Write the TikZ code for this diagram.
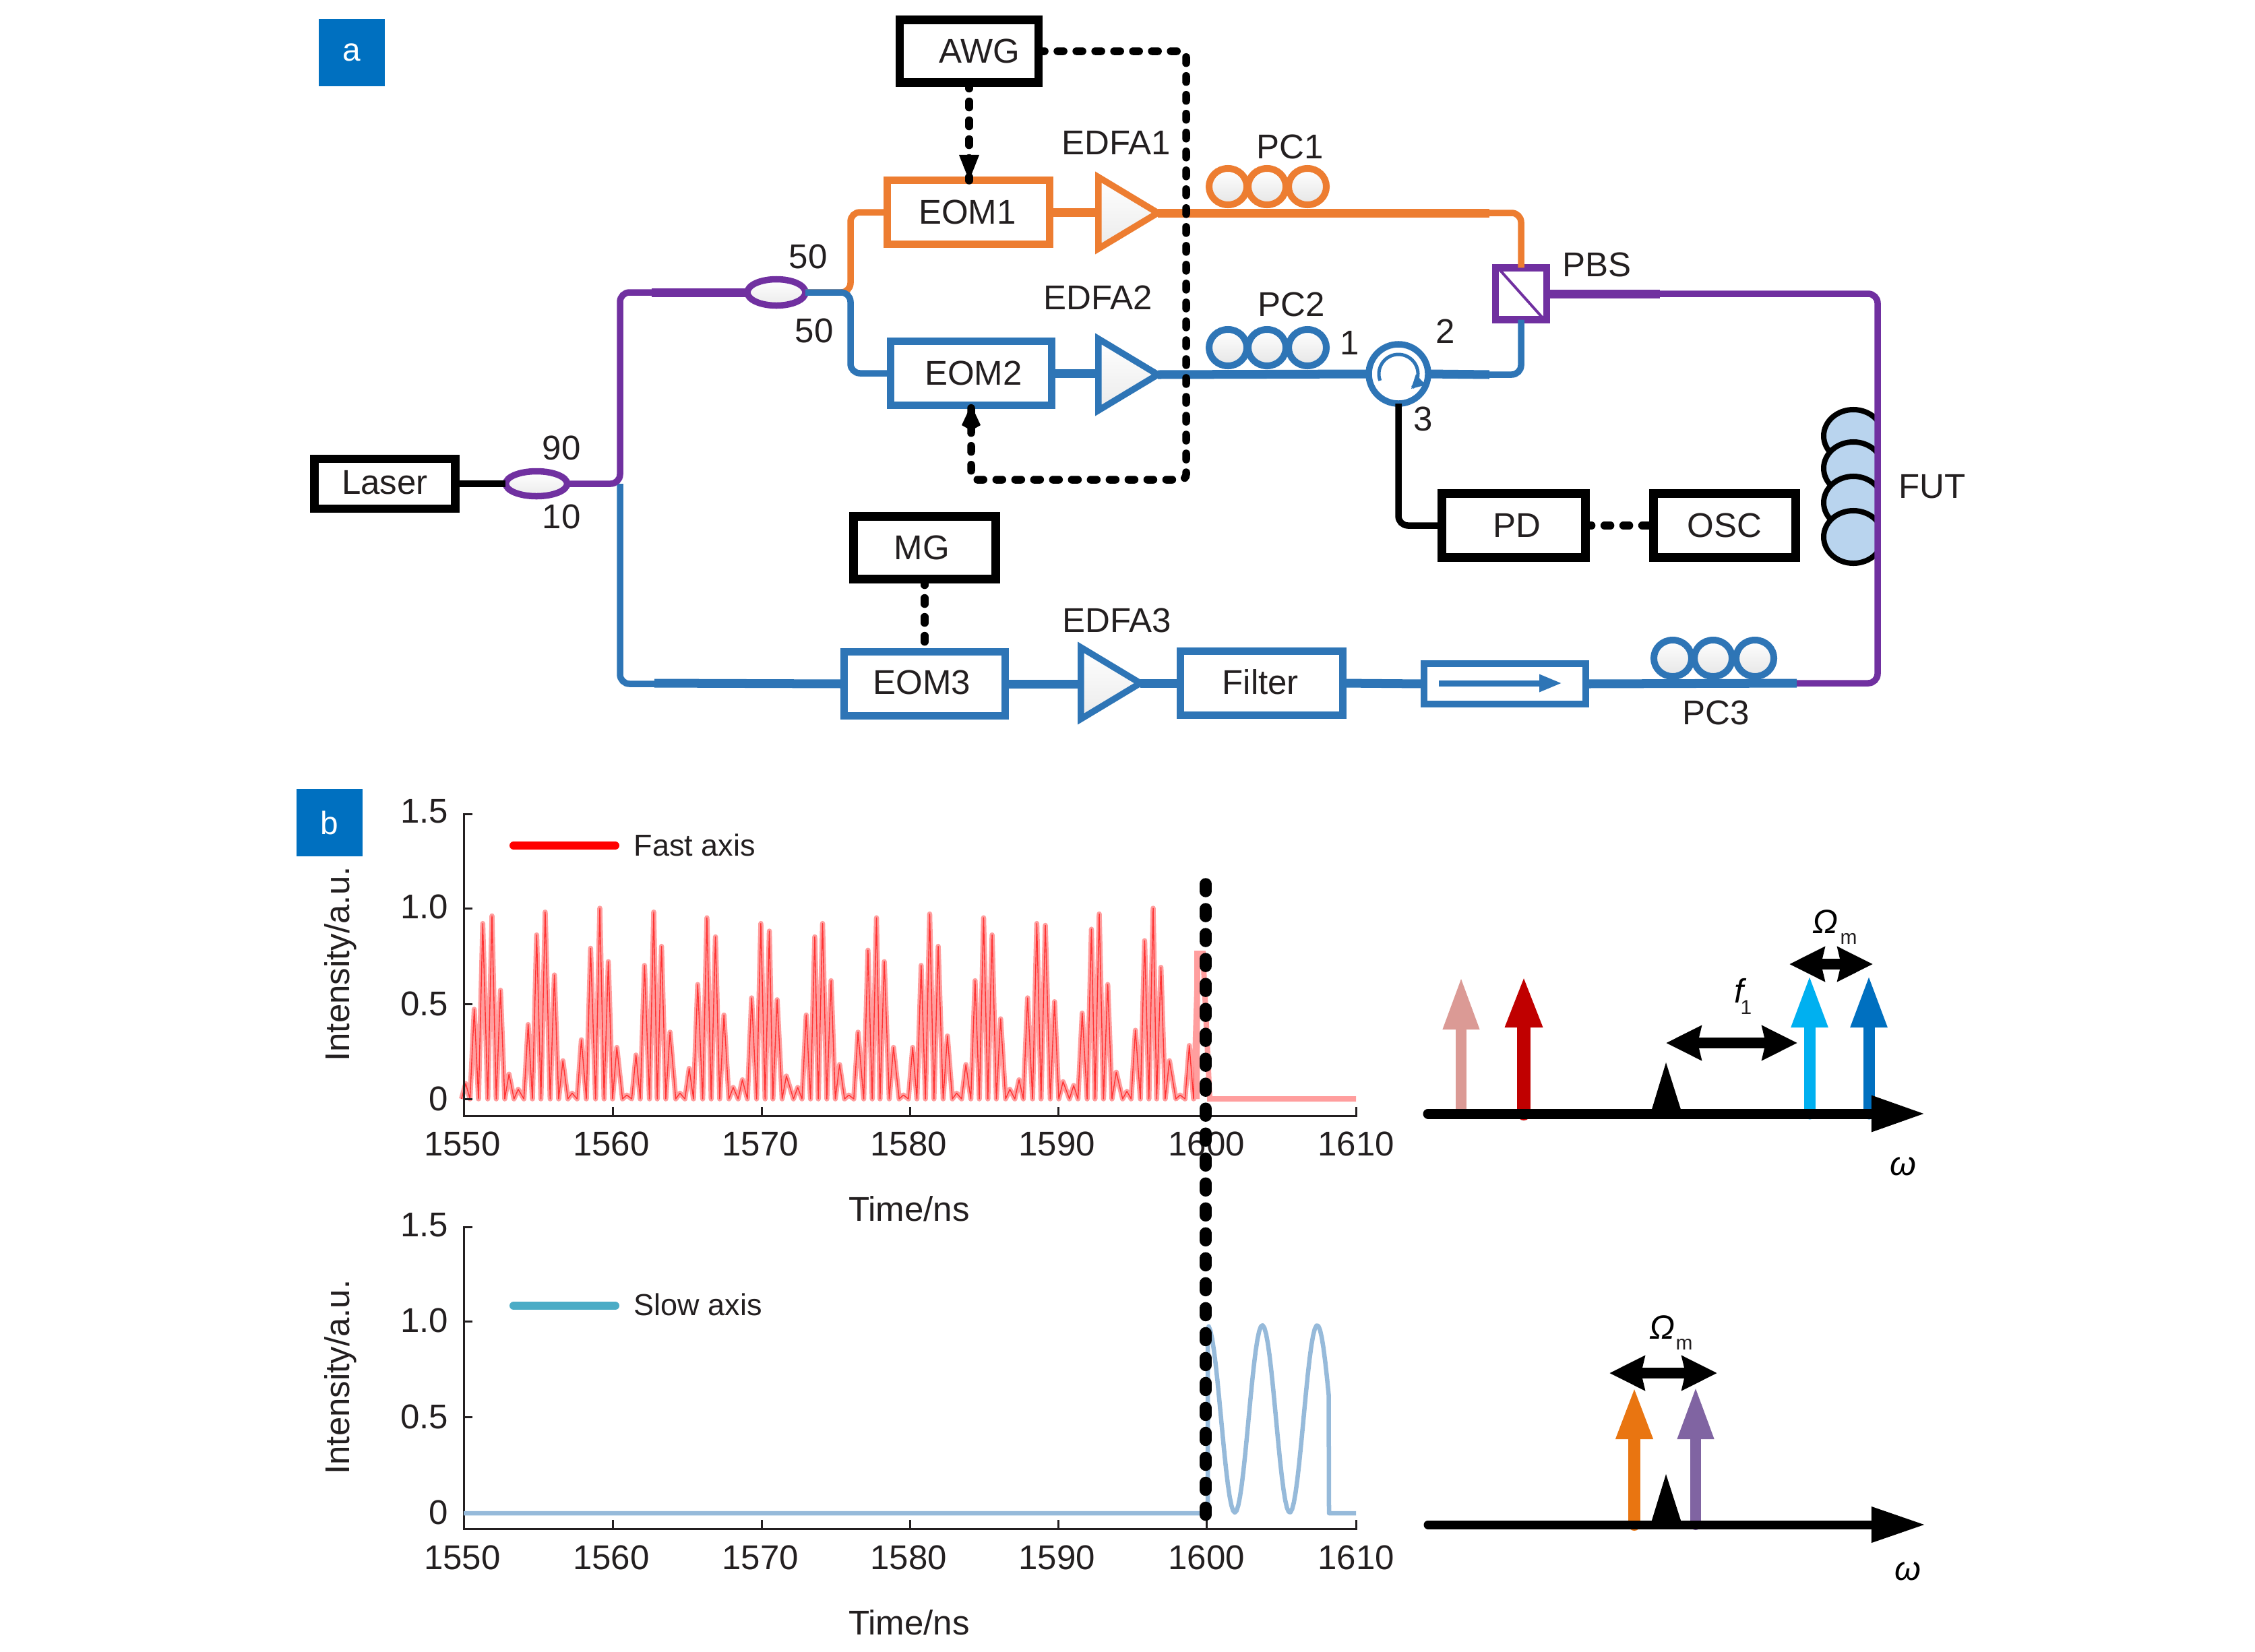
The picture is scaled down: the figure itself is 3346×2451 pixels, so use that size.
\documentclass[tikz,border=0pt]{standalone}
\usepackage{fontspec}
\setmainfont{Liberation Sans}
\usetikzlibrary{arrows.meta,shapes.geometric,calc}
\definecolor{oran}{HTML}{ED7D31}
\definecolor{blu}{HTML}{2E75B6}
\definecolor{purp}{HTML}{7030A0}
\definecolor{tx}{HTML}{231F20}
\definecolor{tag}{HTML}{0070C0}
\definecolor{fut}{HTML}{B9D4EE}
\definecolor{slow}{HTML}{4BACC6}
\tikzset{
 x=0.01cm,y=-0.01cm,
 lab/.style={font=\fontsize{14.5}{17}\selectfont,text=tx,inner sep=0pt},
 box/.style={draw=#1,line width=.11cm,fill=white,inner sep=0pt,outer sep=0pt,font=\fontsize{14.5}{17}\selectfont,text=tx},
 bbox/.style={box=black,line width=.125cm},
 tri/.style={draw=#1,line width=.095cm,isosceles triangle,isosceles triangle stretches,minimum width=1.06cm,minimum height=.88cm,inner sep=0pt,outer sep=0pt,anchor=apex,top color=white,bottom color=black!8,line join=miter},
 coup/.style={draw=purp,line width=.095cm,ellipse,top color=white,bottom color=black!8,inner sep=0pt,outer sep=0pt},
 pc/.style={draw=#1,line width=.1cm,ellipse,minimum width=.56cm,minimum height=.54cm,inner sep=0pt,outer sep=0pt,top color=white,bottom color=black!10},
 futc/.style={draw=black,line width=.08cm,ellipse,fill=fut,minimum width=.88cm,minimum height=.78cm,inner sep=0pt,outer sep=0pt},
 fib/.style={draw=#1,line width=.095cm,rounded corners=.14cm},
 fibt/.style={draw=#1,line width=.13cm},
 sig/.style={draw=black,line width=.115cm,line cap=round,dash pattern=on .09cm off .19cm,rounded corners=.08cm},
 tagbox/.style={fill=tag,text=white,inner sep=0pt,font=\fontsize{13.6}{16}\selectfont,minimum width=.98cm,minimum height=.99cm},
 axisl/.style={draw=tx,line width=.03cm},
 freq/.style={line width=#1,line cap=round,-{Triangle[length=.78cm,width=.5cm]}},
 dbl/.style={line width=.16cm,{Stealth[length=.52cm,width=.5cm,inset=.05cm]}-{Stealth[length=.52cm,width=.5cm,inset=.05cm]}},
 omega/.style={font=\fontsize{14.2}{16}\selectfont\itshape,text=black,inner sep=0pt},
 subs/.style={font=\fontsize{8.5}{10}\selectfont,text=tx,inner sep=0pt}
}
\def\fastspikes{248/.08,260/.47,272/.92,285/.96,297/.57,309/.13,322/.05,336/.39,348/.86,360/.98,373/.65,385/.2,398/.03,411/.31,424/.79,437/1.0,449/.72,461/.27,475/.02,488/.23,500/.7,513/.98,524/.8,536/.35,550/.03,563/.16,575/.6,588/.95,600/.85,612/.44,625/.06,638/.1,651/.53,664/.92,676/.88,687/.52,700/.12,716/.06,728/.44,740/.85,751/.92,763/.62,775/.18,788/.02,801/.35,815/.78,827/.95,838/.72,851/.27,865/.02,878/.27,890/.7,902/.97,914/.8,927/.33,940/.03,953/.18,966/.62,978/.95,990/.86,1002/.42,1015/.05,1028/.1,1040/.53,1053/.92,1065/.91,1078/.51,1090/.09,1105/.07,1117/.45,1130/.89,1141/.97,1153/.6,1165/.14,1180/.04,1192/.36,1205/.83,1217/1.0,1228/.69,1240/.2,1255/.02,1268/.28,1280/.76}
\begin{document}
\begin{tikzpicture}
\path[use as bounding box,fill=white] (0,0) rectangle (3346,2451);
% ---------- panel a
\node[tagbox] (taga) at (522,78) {a};
\node[bbox,minimum width=2.06cm,minimum height=.93cm] (awg) at (1438,76) {\hspace{8.5pt}\raisebox{.4pt}{AWG}};
\node[box=oran,minimum width=2.4cm,minimum height=.94cm] (eom1) at (1437,315) {\hspace{-1pt}EOM1};
\node[box=blu,minimum width=2.38cm,minimum height=.94cm] (eom2) at (1441,554) {\hspace{2pt}\raisebox{-.3pt}{EOM2}};
\node[bbox,minimum width=2.09cm,minimum height=.74cm] (laser) at (571,718) {\raisebox{1.2pt}{Laser}};
\node[bbox,minimum width=2.11cm,minimum height=.93cm] (mg) at (1372,813) {\hspace{-2.3pt}\raisebox{-1.2pt}{MG}};
\node[box=blu,minimum width=2.38cm,minimum height=.94cm] (eom3) at (1372,1015) {\hspace{-2.3pt}\raisebox{1.2pt}{EOM3}};
\node[box=blu,minimum width=2.4cm,minimum height=.95cm] (filter) at (1872,1014) {\hspace{-1pt}\raisebox{1.2pt}{Filter}};
\node[bbox,minimum width=2.13cm,minimum height=.95cm] (pd) at (2246,780) {\hspace{2.5pt}PD};
\node[bbox,minimum width=2.11cm,minimum height=.95cm] (osc) at (2559,780) {OSC};
\node[box=blu,line width=.1cm,minimum width=2.4cm,minimum height=.6cm] (iso) at (2233,1015) {};
\node[box=purp,line width=.105cm,minimum width=.76cm,minimum height=.77cm] (pbs) at (2257,436) {};
\node[tri=oran] (e1) at (1718,316) {};
\node[tri=blu] (e2) at (1718,556) {};
\node[tri=blu] (e3) at (1692,1014) {};
\node[coup,minimum width=.91cm,minimum height=.37cm] (c1) at (796,718) {};
\node[coup,minimum width=.86cm,minimum height=.39cm] (c2) at (1152,434) {};
\node[pc=oran] (pc1a) at (1822,277) {};
\node[pc=oran] (pc1b) at (1880,277) {};
\node[pc=oran] (pc1c) at (1940,277) {};
\node[pc=blu] (pc2a) at (1822,516) {};
\node[pc=blu] (pc2b) at (1880,516) {};
\node[pc=blu] (pc2c) at (1940,516) {};
\node[pc=blu] (pc3a) at (2482,977) {};
\node[pc=blu] (pc3b) at (2542,977) {};
\node[pc=blu] (pc3c) at (2604,977) {};
\node[circle,draw=blu,line width=.095cm,minimum size=.88cm,inner sep=0pt,outer sep=0pt] (circ) at (2075,555) {};
\draw[blu,line width=.05cm,-{Triangle[length=.2cm,width=.2cm]}] plot[domain=160:410,samples=40] ({2075+29*cos(\x)},{555+29*sin(\x)});
\begin{scope}
\clip (2690,590) rectangle (2786,850);
\node[futc] (f1) at (2750,647) {};
\node[futc] (f2) at (2750,695) {};
\node[futc] (f3) at (2750,746) {};
\node[futc] (f4) at (2750,797) {};
\end{scope}
\draw[blu,line width=.09cm,-{Triangle[length=.34cm,width=.24cm]}] (2135,1014) -- (2318,1014);
\draw[purp,line width=.04cm] (2223,398) -- (2291,474);
% routing points
\coordinate (tr) at (920,718);
\coordinate (sp) at (1262,434);
\coordinate (oend) at (2210,316);
\coordinate (bend) at (2210,556);
\coordinate (pr1) at (2463,436);
\coordinate (prc) at (2786,436);
\coordinate (prd) at (2786,1014);
\coordinate (pb) at (2666,1014);
\coordinate (d2) at (1760,712);
% fibres
\draw[fib=black] (laser.east) -- (c1.west);
\draw[fib=blu] (tr) |- (eom3.west);
\draw[fibt=blu] (971,1014) -- (eom3.west);
\draw[fib=purp] (c1.east) -- (tr) |- (c2.west);
\draw[fibt=purp] (967,434) -- (c2.west);
\draw[fib=oran] (c2.east) -- (sp) |- (eom1.west);
\draw[fib=blu] (c2.east) -- (sp) |- (eom2.west);
\draw[fibt=oran] (eom1.east) -- (eom1.east -| e1.west);
\draw[fibt=blu] (eom2.east) -- (eom2.east -| e2.west);
\draw[fibt=oran] (e1.apex) -- (oend);
\draw[fibt=blu] (e2.apex) -- (circ.west);
\draw[fibt=blu] (circ.east) -- (bend);
\draw[fib=oran] (oend) -| (pbs.north);
\draw[fib=blu] (bend) -| (pbs.south);
\draw[fib=black] (circ.south) |- (pd.west);
\draw[fibt=blu] (eom3.east) -- (eom3.east -| e3.west);
\draw[fibt=blu] (e3.apex) -- (filter.west);
\draw[fibt=blu] (filter.east) -- (iso.west);
\draw[fibt=blu] (iso.east) -- (pb);
\draw[fib=purp] (pbs.east) -- (prc) -- (prd) -- (pb);
\draw[fibt=purp] (pbs.east) -- (pr1);
% signal lines
\draw[sig] (awg.east) -| (d2) -| (eom2.south);
\draw[sig] (awg.south) -- (awg.south |- eom1.north);
\fill[black] (awg.south |- eom1.north) -- ++(-15,-38) -- ++(30,0) -- cycle;
\fill[black] (eom2.south) -- ++(-14,30) -- ++(14,8) -- ++(14,-8) -- cycle;
\draw[sig] (mg.south) -- (mg.south |- eom3.north);
\draw[sig] (pd.east) -- (osc.west);
% labels
\node[lab] (l1) at (1656,212) {EDFA1};
\node[lab] (l2) at (1629,442) {EDFA2};
\node[lab] (l3) at (1657,921) {EDFA3};
\node[lab] (l4) at (1199,381) {50};
\node[lab] (l5) at (1208,491) {50};
\node[lab] (l6) at (833,665) {90};
\node[lab] (l7) at (833,767) {10};
\node[lab] (l8) at (1914,218) {PC1};
\node[lab] (l9) at (1916,452) {PC2};
\node[lab] (l10) at (2003,509) {1};
\node[lab] (l11) at (2145,492) {2};
\node[lab] (l12) at (2112,622) {3};
\node[lab] (l13) at (2369,393) {PBS};
\node[lab] (l14) at (2867,722) {FUT};
\node[lab] (l15) at (2546,1058) {PC3};
% ---------- panel b, upper plot
\node[tagbox] (tagb) at (489,1221) {b};
\draw[red!38!white,line width=.075cm,line join=round] ({430+242/0.95},1631) \foreach \x/\h in \fastspikes { -- ({430+(\x-6)/0.95},1631) -- ({430+\x/0.95},{1631-283*\h}) } -- (1776,1631);
\draw[red!80!white,line width=.014cm,line join=round] ({430+242/0.95},1631) \foreach \x/\h in \fastspikes { -- ({430+(\x-6)/0.95},1631) -- ({430+\x/0.95},{1631-283*\h}) } -- (1776,1631);
\draw[red!38!white,line width=.08cm] (1776,1631) -- (1776,1415) -- (1785,1415) -- (1795,1631) -- (2012,1631);
\draw[axisl] (701,1208) -- (688,1208) -- (688,1656) -- (2012,1656) -- (2012,1643);
\foreach \y in {1348,1490,1631} \draw[axisl] (688,\y) -- (701,\y);
\foreach \x in {909,1130,1350,1570,1790} \draw[axisl] (\x,1656) -- (\x,1643);
\foreach \t/\y in {1.5/1204,1.0/1346,0.5/1490,0/1631} \node[lab,anchor=east] (yu\t) at (666,\y) {\t};
\foreach \t/\x in {1550/686,1560/907,1570/1128,1580/1348,1590/1568,1600/1790,1610/2012} \node[lab] (xu\t) at (\x,1698) {\t};
\node[lab] (tu) at (1349,1794) {Time/ns};
\node[lab,rotate=90] (iu) at (505,1431) {Intensity/a.u.};
\draw[red,line width=.12cm,line cap=round] (762,1255) -- (913,1255);
\node[lab,anchor=west,font=\fontsize{12.8}{15}\selectfont] (fa) at (940,1254) {Fast axis};
% lower plot
\draw[axisl] (701,1821) -- (688,1821) -- (688,2269) -- (2012,2269) -- (2012,2256);
\foreach \y in {1961,2103,2244} \draw[axisl] (688,\y) -- (701,\y);
\foreach \x in {909,1130,1350,1570,1790} \draw[axisl] (\x,2269) -- (\x,2256);
\foreach \t/\y in {1.5/1818,1.0/1960,0.5/2103,0/2245} \node[lab,anchor=east] (yl\t) at (666,\y) {\t};
\foreach \t/\x in {1550/686,1560/907,1570/1128,1580/1348,1590/1568,1600/1790,1610/2012} \node[lab] (xl\t) at (\x,2312) {\t};
\node[lab] (tl) at (1349,2408) {Time/ns};
\node[lab,rotate=90] (il) at (505,2044) {Intensity/a.u.};
\draw[draw=blu!50!white,line width=.065cm,line join=round] (688,2246) -- (1792,2246) -- (1792,1973) -- plot[domain=2:180,samples=70] ({1791.5+\x},{2106-139*cos(\x*4.417)}) -- (1972,2246) -- (2012,2246);
\draw[slow,line width=.12cm,line cap=round] (762,1938) -- (913,1938);
\node[lab,anchor=west,font=\fontsize{12.8}{15}\selectfont] (sa) at (940,1936) {Slow axis};
% dashed marker
\coordinate (vt) at (1789,1312);
\coordinate (vb) at (1789,2262);
\draw[black,line width=.175cm,line cap=round,dash pattern=on .11cm off .26cm] (vt) -- (vb);
% ---------- spectra
\definecolor{cA}{HTML}{DB9A95}\definecolor{cB}{HTML}{C00000}\definecolor{cC}{HTML}{00B0F0}\definecolor{cD}{HTML}{0070C0}\definecolor{cE}{HTML}{E97511}\definecolor{cF}{HTML}{8064A2}
\draw[cA,freq=.16cm] (2168,1653) -- (2168,1450);
\draw[cB,freq=.2cm] (2261,1653) -- (2261,1447);
\draw[cC,freq=.17cm] (2685,1653) -- (2685,1447);
\draw[cD,freq=.17cm] (2773,1653) -- (2773,1447);
\draw[black,line width=.15cm,line cap=round,-{Triangle[length=.8cm,width=.5cm]}] (2119,1653) -- (2857,1653);
\fill[black] (2472,1577) -- (2496,1653) -- (2449,1653) -- cycle;
\draw[dbl] (2472,1548) -- (2667,1548);
\draw[dbl] (2655,1431) -- (2779,1431);
\node[omega] (o1) at (2708,1368) {Ω};
\node[subs] (m1) at (2743,1393) {m};
\node[omega] (f1l) at (2580,1470) {f};
\node[subs] (s1) at (2591,1495) {1};
\node[omega] (w1) at (2824,1731) {ω};
\draw[cE,freq=.18cm] (2425,2263) -- (2425,2058);
\draw[cF,freq=.16cm] (2516,2263) -- (2516,2058);
\draw[black,line width=.13cm,line cap=round,-{Triangle[length=.8cm,width=.5cm]}] (2119,2263) -- (2857,2263);
\fill[black] (2472,2188) -- (2496,2263) -- (2449,2263) -- cycle;
\draw[dbl] (2388,2038) -- (2548,2038);
\node[omega] (o2) at (2466,1970) {Ω};
\node[subs] (m2) at (2499,1995) {m};
\node[omega] (w2) at (2831,2332) {ω};
\end{tikzpicture}
\end{document}
